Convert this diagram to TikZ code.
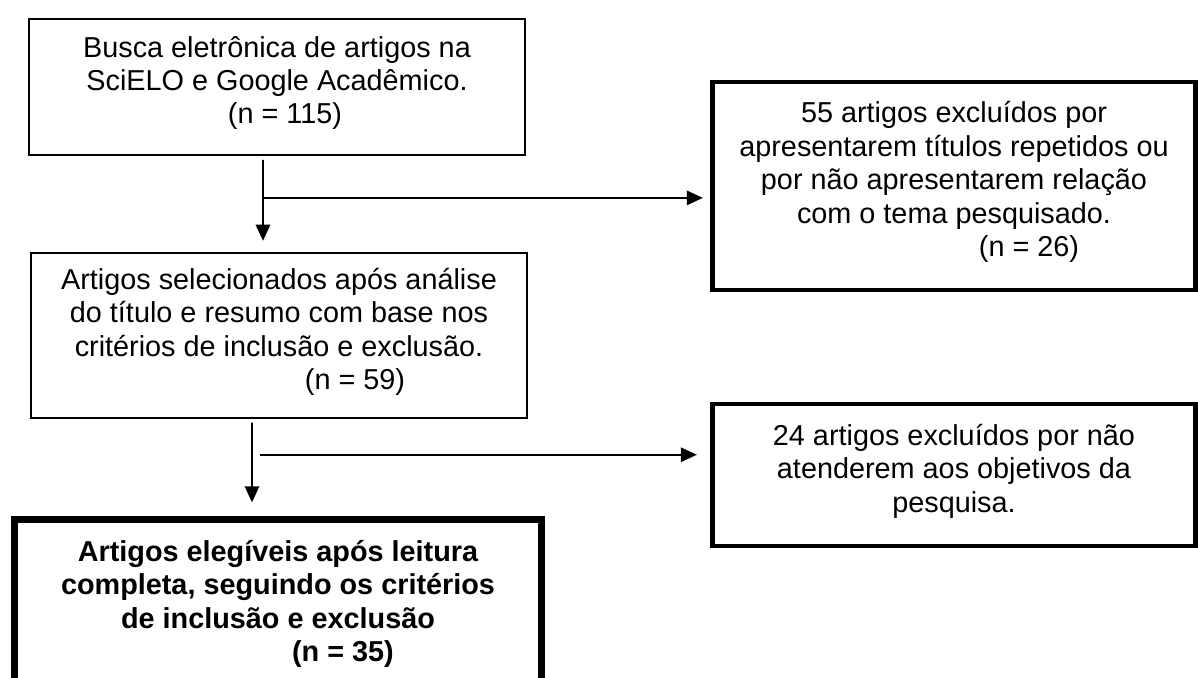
\documentclass[tikz,border=0pt]{standalone}
\usepackage{fontspec}
\setmainfont{Liberation Sans}
\usetikzlibrary{calc, arrows.meta}

\begin{document}
\begin{tikzpicture}[block/.style={rectangle, draw=black, line width=1.3pt, minimum width=12.4cm, inner sep=0pt},
  thickblock/.style={rectangle, draw=black, line width=3.5pt, minimum width=12.075cm, inner sep=0pt},
  txt/.style={align=center, font=\fontsize{20.5}{23.8}\selectfont},
  arr/.style={line width=1.3pt, -{Triangle[length=0.4cm, width=0.36cm]}}]

  \useasboundingbox (0,0) rectangle (29.95,-16.95);

  \node[block, minimum height=3.4cm] at (6.925,-2.175) (b1) {};
  \node[block, minimum height=4.125cm, below] at ([xshift=0.05cm,yshift=-2.4cm]b1.south) (b2) {};
  \node[block, line width=5pt, minimum width=13.175cm, minimum height=4.24cm, below] at ([xshift=-0.025cm,yshift=-2.42cm]b2.south) (b3) {};
  \node[thickblock, minimum height=5.2cm] at (23.85,-4.65) (bA) {};
  \node[thickblock, minimum height=3.55cm] at (23.85,-11.875) (bB) {};

  \node[txt] at ([yshift=0.1cm]b1.center) (t1) {Busca eletrônica de artigos na\\SciELO e Google Acadêmico.\\\hspace*{0.4cm}(n = 115)};
  \node[txt] at ([yshift=0.09cm]b2.center) (t2) {Artigos selecionados após análise\\do título e resumo com base nos\\critérios de inclusão e exclusão.\\\hspace*{3.8cm}(n = 59)};
  \node[txt, font=\fontsize{20.5}{23.8}\selectfont\bfseries] at (b3.center) (t3) {Artigos elegíveis após leitura\\completa, seguindo os critérios\\de inclusão e exclusão\\\hspace*{3.25cm}(n = 35)};
  \node[txt] at ([yshift=0.1cm]bA.center) (tA) {55 artigos excluídos por\\apresentarem títulos repetidos ou\\por não apresentarem relação\\com o tema pesquisado.\\\hspace*{3.75cm}(n = 26)};
  \node[txt] at ([yshift=0.1cm]bB.center) (tB) {24 artigos excluídos por não\\atenderem aos objetivos da\\pesquisa.};

  \draw[arr] ([xshift=-0.35cm,yshift=-0.1cm]b1.south) -- ([xshift=-0.4cm,yshift=0.28cm]b2.north);
  \coordinate (j1) at ([xshift=-0.35cm,yshift=-1.05cm]b1.south);
  \draw[arr, shorten >=0.18cm] (j1) -- (j1 -| bA.west);

  \draw[arr] ([xshift=-0.675cm,yshift=-0.1cm]b2.south) -- ([xshift=-0.65cm,yshift=0.33cm]b3.north);
  \coordinate (j2) at ([xshift=-0.675cm,yshift=-0.9cm]b2.south);
  \draw[arr, shorten >=0.33cm] ([xshift=0.2cm]j2) -- (j2 -| bB.west);

\end{tikzpicture}
\end{document}
